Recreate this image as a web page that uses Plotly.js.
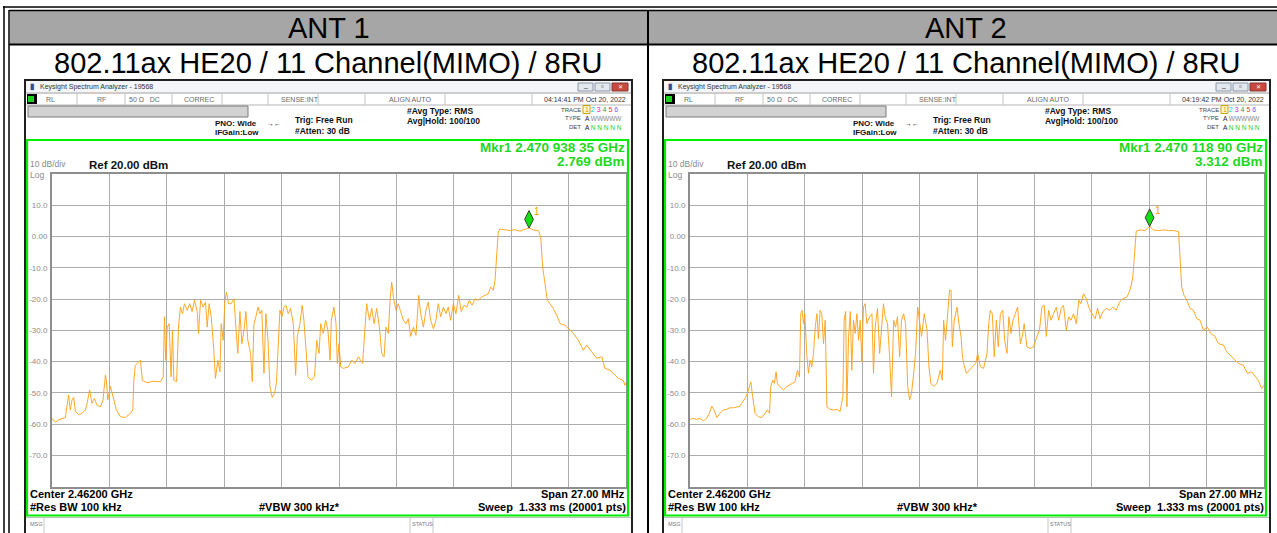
<!DOCTYPE html>
<html><head><meta charset="utf-8">
<script src="https://cdn.plot.ly/plotly-3.0.1.min.js"></script>
<style>html,body{margin:0;padding:0;background:#fff;}#chart{width:1277px;height:533px;}</style>
</head><body><div id="chart"></div>
<script>
// ---------------- DATA ----------------
const panelTitles = ['ANT 1', 'ANT 2'];
const subTitles = ['802.11ax HE20 / 11 Channel(MIMO) / 8RU', '802.11ax HE20 / 11 Channel(MIMO) / 8RU'];
const timeStamps = ['04:14:41 PM Oct 20, 2022', '04:19:42 PM Oct 20, 2022'];
const markerTexts = ['Mkr1 2.470 938 35 GHz', 'Mkr1 2.470 118 90 GHz'];
const markerLevelTexts = ['2.769 dBm', '3.312 dBm'];
const markerFreq = [2470.93835, 2470.11890];   // MHz
const markerLevel = [2.769, 3.312];            // dBm
const centerMHz = 2462.0;
const spanMHz = 27.0;
const refLevel = 20;       // dBm
const dbPerDiv = 10;
const yTickVals = [10, 0, -10, -20, -30, -40, -50, -60, -70];
const yTickText = ['10.0', '0.00', '-10.0', '-20.0', '-30.0', '-40.0', '-50.0', '-60.0', '-70.0'];

const freqA1 = [2448.50,2448.66,2448.81,2448.97,2449.13,2449.28,2449.36,2449.44,2449.52,2449.60,2449.76,2449.91,2450.07,2450.15,2450.27,2450.38,2450.49,2450.62,2450.78,2450.90,2451.01,2451.06,2451.12,2451.25,2451.37,2451.53,2451.72,2451.95,2452.19,2452.30,2452.35,2452.42,2452.58,2452.66,2452.75,2452.97,2453.29,2453.60,2453.73,2453.79,2453.85,2453.92,2454.01,2454.10,2454.17,2454.23,2454.36,2454.45,2454.54,2454.64,2454.73,2454.86,2454.98,2455.09,2455.20,2455.33,2455.39,2455.49,2455.61,2455.72,2455.80,2455.89,2455.99,2456.08,2456.19,2456.30,2456.40,2456.46,2456.55,2456.63,2456.71,2456.80,2456.93,2457.06,2457.18,2457.24,2457.34,2457.43,2457.53,2457.62,2457.71,2457.84,2457.92,2458.00,2458.09,2458.19,2458.28,2458.37,2458.47,2458.56,2458.66,2458.75,2458.86,2458.97,2459.06,2459.16,2459.22,2459.32,2459.41,2459.50,2459.61,2459.72,2459.85,2459.96,2460.04,2460.16,2460.27,2460.35,2460.45,2460.54,2460.70,2460.85,2460.95,2461.06,2461.14,2461.26,2461.37,2461.48,2461.58,2461.64,2461.76,2461.86,2461.92,2462.00,2462.08,2462.20,2462.44,2462.60,2462.75,2462.91,2463.11,2463.22,2463.30,2463.43,2463.54,2463.65,2463.77,2463.90,2464.01,2464.12,2464.21,2464.32,2464.40,2464.48,2464.56,2464.68,2464.79,2464.90,2465.03,2465.15,2465.26,2465.37,2465.50,2465.62,2465.75,2465.84,2465.97,2466.09,2466.20,2466.31,2466.44,2466.56,2466.67,2466.78,2466.91,2467.03,2467.14,2467.25,2467.38,2467.50,2467.63,2467.75,2467.88,2468.01,2468.13,2468.26,2468.40,2468.55,2468.71,2468.87,2469.02,2469.13,2469.26,2469.34,2469.42,2469.49,2469.57,2469.81,2470.04,2470.28,2470.51,2470.75,2470.94,2471.14,2471.38,2471.49,2471.58,2471.69,2471.80,2471.92,2472.08,2472.24,2472.40,2472.63,2472.79,2473.02,2473.26,2473.49,2473.65,2473.88,2474.12,2474.36,2474.51,2474.75,2474.90,2475.14,2475.37,2475.45,2475.50];
const levelA1 = [-58.2,-59.5,-58.7,-58.2,-57.9,-50.7,-55.5,-52.3,-51.5,-56.0,-57.0,-56.6,-55.5,-53.4,-49.1,-53.4,-51.8,-54.0,-54.5,-52.3,-44.4,-46.0,-52.3,-48.0,-51.0,-55.5,-57.7,-57.9,-56.6,-55.5,-46.0,-41.2,-40.1,-39.6,-46.0,-46.8,-46.3,-46.5,-44.9,-25.7,-39.6,-29.0,-27.9,-44.9,-30.0,-46.0,-46.5,-29.0,-22.6,-24.7,-21.5,-23.6,-21.5,-24.0,-20.4,-24.0,-31.0,-20.4,-22.6,-21.0,-29.0,-21.5,-25.7,-33.2,-45.4,-39.6,-43.3,-27.9,-33.2,-21.0,-17.8,-21.5,-21.5,-19.9,-32.0,-37.4,-24.0,-34.3,-30.0,-24.0,-33.2,-37.4,-46.5,-27.9,-25.7,-22.6,-24.7,-23.6,-43.8,-24.7,-33.2,-48.0,-51.5,-50.2,-46.5,-33.2,-23.6,-25.7,-22.6,-22.0,-24.7,-23.0,-27.9,-44.4,-32.0,-27.9,-22.0,-26.8,-35.3,-44.9,-46.0,-44.9,-33.2,-37.4,-27.9,-31.0,-26.8,-30.0,-39.6,-26.8,-22.6,-27.9,-40.6,-34.3,-41.7,-42.2,-41.7,-39.6,-40.6,-38.5,-40.6,-31.0,-21.5,-26.8,-23.0,-27.9,-23.0,-29.0,-37.4,-38.5,-29.0,-31.0,-20.4,-14.6,-19.4,-23.6,-21.5,-24.0,-26.8,-27.9,-26.3,-32.0,-29.0,-31.6,-18.8,-24.7,-29.0,-23.6,-21.0,-26.8,-29.5,-26.8,-21.5,-25.7,-22.6,-24.7,-22.6,-26.8,-21.5,-24.7,-18.8,-24.0,-22.0,-22.6,-20.4,-22.0,-19.9,-20.4,-19.4,-18.8,-18.3,-16.2,-17.2,-14.0,-5.5,1.4,2.4,2.1,1.9,2.2,1.7,2.3,2.77,2.1,1.9,-0.2,-9.8,-15.1,-20.4,-21.5,-23.0,-25.2,-27.9,-28.4,-29.5,-31.0,-33.2,-36.4,-34.7,-36.9,-39.0,-38.5,-42.2,-42.8,-43.8,-45.4,-46.0,-47.6,-46.8];

const freqA2 = [2448.50,2448.66,2448.81,2448.97,2449.13,2449.28,2449.41,2449.52,2449.63,2449.76,2449.91,2450.07,2450.23,2450.38,2450.54,2450.70,2450.85,2450.98,2451.09,2451.20,2451.29,2451.36,2451.45,2451.56,2451.72,2451.88,2452.03,2452.14,2452.24,2452.30,2452.39,2452.47,2452.55,2452.61,2452.71,2452.90,2453.05,2453.29,2453.44,2453.55,2453.65,2453.71,2453.77,2453.84,2453.90,2453.99,2454.07,2454.15,2454.23,2454.31,2454.39,2454.47,2454.54,2454.62,2454.70,2454.78,2454.86,2454.94,2455.09,2455.25,2455.41,2455.56,2455.69,2455.75,2455.82,2455.88,2455.96,2456.04,2456.11,2456.19,2456.27,2456.35,2456.43,2456.51,2456.58,2456.66,2456.74,2456.82,2456.95,2457.06,2457.13,2457.21,2457.32,2457.42,2457.51,2457.60,2457.68,2457.79,2457.89,2457.98,2458.08,2458.17,2458.26,2458.36,2458.45,2458.55,2458.64,2458.74,2458.83,2458.92,2459.02,2459.11,2459.21,2459.30,2459.39,2459.52,2459.65,2459.74,2459.83,2459.96,2460.12,2460.27,2460.37,2460.43,2460.52,2460.62,2460.71,2460.78,2460.84,2460.93,2461.06,2461.15,2461.25,2461.31,2461.37,2461.50,2461.65,2461.81,2461.94,2462.03,2462.16,2462.31,2462.47,2462.55,2462.63,2462.72,2462.81,2462.91,2463.00,2463.10,2463.21,2463.30,2463.41,2463.50,2463.60,2463.69,2463.80,2463.91,2464.04,2464.13,2464.22,2464.35,2464.51,2464.66,2464.82,2464.94,2465.05,2465.16,2465.26,2465.37,2465.48,2465.60,2465.73,2465.84,2465.96,2466.07,2466.20,2466.31,2466.42,2466.54,2466.67,2466.79,2466.89,2467.01,2467.14,2467.26,2467.40,2467.56,2467.67,2467.79,2467.92,2468.08,2468.23,2468.39,2468.55,2468.70,2468.86,2469.05,2469.20,2469.33,2469.41,2469.49,2469.67,2469.91,2470.12,2470.30,2470.54,2470.77,2471.01,2471.24,2471.48,2471.55,2471.63,2471.74,2471.87,2472.02,2472.18,2472.34,2472.49,2472.65,2472.84,2472.99,2473.20,2473.35,2473.59,2473.75,2473.98,2474.14,2474.29,2474.53,2474.72,2474.92,2475.08,2475.23,2475.39,2475.50];
const levelA2 = [-58.5,-58.2,-58.5,-58.2,-59.0,-58.2,-56.6,-54.3,-55.5,-57.9,-56.6,-55.5,-55.3,-54.8,-54.8,-54.5,-54.3,-52.9,-51.8,-50.2,-47.6,-46.5,-51.3,-56.6,-57.7,-57.9,-56.6,-55.5,-56.6,-48.0,-46.0,-47.0,-43.3,-47.0,-48.0,-49.1,-48.0,-47.2,-46.5,-42.8,-44.9,-24.7,-23.6,-27.9,-24.7,-37.4,-43.8,-39.6,-41.7,-37.4,-29.0,-24.7,-32.7,-23.6,-24.7,-34.3,-26.8,-54.5,-55.3,-55.5,-55.3,-56.0,-51.3,-26.8,-24.0,-54.5,-32.0,-24.0,-42.8,-26.8,-31.0,-24.7,-33.2,-26.8,-40.1,-22.6,-21.5,-27.9,-25.7,-24.7,-43.8,-29.0,-23.0,-37.4,-30.0,-21.5,-25.7,-27.9,-38.5,-51.3,-26.8,-29.0,-25.7,-38.5,-26.8,-24.7,-27.9,-48.0,-52.3,-50.2,-43.8,-37.4,-22.6,-27.9,-32.0,-24.7,-30.0,-41.7,-47.0,-48.0,-47.0,-42.8,-46.0,-26.8,-33.2,-24.7,-17.2,-17.2,-35.3,-26.8,-22.6,-27.9,-32.0,-38.0,-40.6,-43.8,-42.8,-41.7,-40.6,-37.4,-41.7,-42.2,-37.4,-27.9,-23.6,-24.7,-38.5,-26.8,-35.3,-24.7,-23.6,-33.2,-37.4,-25.7,-31.0,-26.8,-24.7,-22.6,-34.3,-32.0,-27.9,-35.3,-35.8,-35.3,-32.0,-30.0,-22.6,-22.0,-32.0,-23.6,-26.8,-24.7,-22.6,-26.8,-23.0,-22.0,-30.0,-25.7,-26.8,-24.7,-27.9,-20.4,-21.5,-18.3,-19.9,-22.6,-24.7,-26.3,-23.0,-26.3,-24.0,-23.0,-23.6,-22.6,-23.6,-21.0,-19.9,-19.4,-17.2,-13.0,-5.5,1.7,2.1,1.9,3.31,2.1,1.9,2.1,1.9,1.9,1.6,-5.5,-16.2,-18.8,-20.4,-23.0,-23.6,-26.3,-26.8,-30.0,-29.0,-31.0,-32.0,-34.3,-34.7,-36.9,-38.5,-39.6,-40.6,-41.2,-43.8,-43.3,-44.9,-46.0,-48.6,-47.6];

// ---------------- LAYOUT HELPERS ----------------
const W = 1277, H = 533;
const F = 'Liberation Sans, Arial, sans-serif';
const X = px => px / W;
const Y = py => 1 - py / H;
const shapes = [];
const ann = [];
function rect(x0, y0, x1, y1, fill, line, lw, layer) {
  shapes.push({type: 'rect', xref: 'paper', yref: 'paper', x0: X(x0), x1: X(x1), y0: Y(y1), y1: Y(y0),
    fillcolor: fill || 'rgba(0,0,0,0)', line: {color: line || 'rgba(0,0,0,0)', width: lw || 0}, layer: layer || 'below'});
}
function hline(x0, x1, y, color, w, layer) {
  shapes.push({type: 'line', xref: 'paper', yref: 'paper', x0: X(x0), x1: X(x1), y0: Y(y), y1: Y(y), line: {color, width: w}, layer: layer || 'below'});
}
function vline(x, y0, y1, color, w, layer) {
  shapes.push({type: 'line', xref: 'paper', yref: 'paper', x0: X(x), x1: X(x), y0: Y(y0), y1: Y(y1), line: {color, width: w}, layer: layer || 'below'});
}
function txt(x, y, text, size, color, anchor) {
  ann.push({xref: 'paper', yref: 'paper', x: X(x), y: Y(y), text, showarrow: false, xanchor: anchor || 'left', yanchor: 'middle',
    borderpad: 0, font: {family: F, size, color: color || '#000'}});
}

// ---------------- TABLE ----------------
rect(10, 11, 1277, 44, '#a6a6a6');
hline(3, 1277, 7, '#000', 1.5);
hline(9, 1277, 10.5, '#000', 1.5);
vline(4, 6, 533, '#000', 1.5);
vline(9, 10, 533, '#000', 1.5);
hline(9, 1277, 44.5, '#000', 2);
vline(648, 10, 533, '#000', 2);
const cellCenters = [328.5, 966];
for (let i = 0; i < 2; i++) {
  txt(cellCenters[i], 28, panelTitles[i], 29, '#000', 'center');
  txt(cellCenters[i], 63, subTitles[i], 29, '#000', 'center');
}

// ---------------- ANALYZER SCREENS ----------------
const PLOT_L = 52, PLOT_R = 626, PLOT_T = 174, PLOT_B = 486.5, DX = 638;
const greenC = '#00ee00';
for (let i = 0; i < 2; i++) {
  const d = i * DX;
  // window
  rect(25 + d, 80, 632 + d, 545, '#ffffff', '#202020', 2);
  rect(26 + d, 81, 631 + d, 92, '#f3f5f8');
  txt(29 + d, 86.5, '<b>▮</b>', 8, '#3a4a8a');
  txt(39 + d, 87, 'Keysight Spectrum Analyzer - 19568', 7, '#333');
  rect(578 + d, 83, 593 + d, 91, '#e3e8ef', '#8a97a8', 1);
  rect(595 + d, 83, 610 + d, 91, '#e3e8ef', '#8a97a8', 1);
  rect(612 + d, 83, 628 + d, 91, '#c9483e', '#8a3a33', 1);
  txt(583 + d, 87.5, '‒', 7, '#333');
  txt(600 + d, 87, '▫', 8, '#333');
  txt(617 + d, 87, '✕', 6, '#fff');
  // status row
  hline(26 + d, 631 + d, 93, '#9a9a9a', 1);
  hline(26 + d, 631 + d, 105, '#b5b5b5', 1);
  rect(27 + d, 94, 37 + d, 104, '#000000');
  rect(28 + d, 96, 34 + d, 102, '#1fcf1f');
  [77, 125, 172, 222, 268, 318, 365, 445, 532].forEach(x => vline(x + d, 93, 105, '#c4c4c4', 1));
  txt(45 + d, 99.5, 'RL', 7, '#6a6a6a');
  txt(96 + d, 99.5, 'RF', 7, '#6a6a6a');
  txt(128 + d, 99.5, '50 Ω   DC', 7, '#6a6a6a');
  txt(183 + d, 99.5, 'CORREC', 7, '#6a6a6a');
  txt(280 + d, 99.5, 'SENSE:INT', 7, '#6a6a6a');
  txt(388 + d, 99.5, 'ALIGN AUTO', 7, '#6a6a6a');
  txt(627 + d, 99.5, timeStamps[i], 7, '#333', 'right');
  // grey message bar
  rect(28 + d, 106, 248 + d, 117, '#d2d2d2', '#7a7a7a', 1);
  // settings text
  txt(258 + d, 123, '<b>PNO: Wide</b>', 8, '#111', 'right');
  txt(260 + d, 133, '<b>IFGain:Low</b>', 8, '#111', 'right');
  txt(266 + d, 123, '<b>→←</b>', 7, '#111');
  txt(294 + d, 120, '<b>Trig: Free Run</b>', 8.5, '#111');
  txt(294 + d, 131, '<b>#Atten: 30 dB</b>', 8.5, '#111');
  txt(406 + d, 111, '<b>#Avg Type: RMS</b>', 8.5, '#111');
  txt(406 + d, 121, '<b>Avg|Hold: 100/100</b>', 8.5, '#111');
  txt(582 + d, 109.5, 'TRACE', 6, '#444', 'right');
  txt(582 + d, 118.5, 'TYPE', 6, '#444', 'right');
  txt(582 + d, 127.5, 'DET', 6, '#444', 'right');
  rect(583 + d, 105.5, 590 + d, 113.5, '#fff8d0', '#c9a200', 1);
  txt(584 + d, 109.5, '<span style="color:#d89a00">1</span> <span style="color:#00c8e0">2</span> <span style="color:#e020e0">3</span> <span style="color:#00b050">4</span> <span style="color:#ff3030">5</span> <span style="color:#7060ff">6</span>', 7, '#000');
  txt(584 + d, 118.5, 'A <span style="color:#888">WWWWW</span>', 6.5, '#222');
  txt(584 + d, 127.5, 'A <span style="color:#1fcf1f">N N N N N</span>', 6.5, '#222');
  // green frame
  rect(27 + d, 140, 628 + d, 515.5, 'rgba(0,0,0,0)', greenC, 2.2, 'above');
  txt(626 + d, 147.5, '<b>' + markerTexts[i] + '</b>', 13.5, '#1ed81e', 'right');
  txt(626 + d, 161.5, '<b>' + markerLevelTexts[i] + '</b>', 13.5, '#1ed81e', 'right');
  txt(29 + d, 164, dbPerDiv + ' dB/div', 8.5, '#8a8a8a');
  txt(88 + d, 165, '<b>Ref ' + refLevel.toFixed(2) + ' dBm</b>', 11.5, '#111');
  txt(29 + d, 174.5, 'Log', 8.5, '#8a8a8a');
  // bottom info
  txt(29 + d, 494, '<b>Center ' + (centerMHz / 1000).toFixed(5) + ' GHz</b>', 11, '#000');
  txt(626 + d, 494, '<b>Span ' + spanMHz.toFixed(2) + ' MHz</b>', 11, '#000', 'right');
  txt(29 + d, 507, '<b>#Res BW 100 kHz</b>', 11, '#000');
  txt(258 + d, 507, '<b>#VBW 300 kHz*</b>', 11, '#000');
  txt(627 + d, 507, '<b>Sweep  1.333 ms (20001 pts)</b>', 11, '#000', 'right');
  // msg row
  hline(26 + d, 631 + d, 517.5, '#bdbdbd', 1);
  vline(44 + d, 517.5, 533, '#c8c8c8', 1);
  vline(410 + d, 517.5, 533, '#c8c8c8', 1);
  vline(433 + d, 517.5, 533, '#c8c8c8', 1);
  txt(29 + d, 524, 'MSG', 5.5, '#777');
  txt(411 + d, 524, 'STATUS', 5.5, '#777');
}

// ---------------- AXES ----------------
const fStart = centerMHz - spanMHz / 2, fStop = centerMHz + spanMHz / 2;
const xGrid = [];
for (let k = 1; k < 10; k++) xGrid.push(fStart + k * spanMHz / 10);
function xAx(l, r) {
  return {domain: [X(l), X(r)], range: [fStart, fStop], tickvals: xGrid, showticklabels: false, ticks: '',
    showgrid: true, gridcolor: '#acacac', gridwidth: 1, zeroline: false, showline: true, mirror: true,
    linecolor: '#8e8e8e', linewidth: 2, fixedrange: true};
}
function yAx(anchor) {
  return {domain: [Y(PLOT_B), Y(PLOT_T)], range: [refLevel - 10 * dbPerDiv, refLevel], tickvals: yTickVals, ticktext: yTickText,
    ticks: '', showgrid: true, gridcolor: '#acacac', gridwidth: 1, zeroline: false, showline: true, mirror: true,
    linecolor: '#8e8e8e', linewidth: 2, anchor, fixedrange: true, tickfont: {family: F, size: 8, color: '#8c8c8c'}, ticklabelstandoff: 1};
}

const traceColor = 'rgba(255,163,26,0.95)';
const diamondLift = 8.5 * (10 * dbPerDiv) / (PLOT_B - PLOT_T); // px -> dB
const data = [
  {x: freqA1, y: levelA1, xaxis: 'x', yaxis: 'y', mode: 'lines', line: {color: traceColor, width: 1}, hoverinfo: 'skip'},
  {x: freqA2, y: levelA2, xaxis: 'x2', yaxis: 'y2', mode: 'lines', line: {color: traceColor, width: 1}, hoverinfo: 'skip'},
  {x: [markerFreq[0]], y: [markerLevel[0] + diamondLift], xaxis: 'x', yaxis: 'y', mode: 'markers',
    marker: {symbol: 'diamond-tall', size: 12.5, color: '#10e010', line: {color: '#3a3a3a', width: 1}}, hoverinfo: 'skip'},
  {x: [markerFreq[1]], y: [markerLevel[1] + diamondLift], xaxis: 'x2', yaxis: 'y2', mode: 'markers',
    marker: {symbol: 'diamond-tall', size: 12.5, color: '#10e010', line: {color: '#3a3a3a', width: 1}}, hoverinfo: 'skip'}
];
ann.push({xref: 'x', yref: 'y', x: markerFreq[0], y: markerLevel[0], text: '1', showarrow: false, xshift: 8, yshift: 16,
  font: {family: F, size: 10, color: '#f0a000'}});
ann.push({xref: 'x2', yref: 'y2', x: markerFreq[1], y: markerLevel[1], text: '1', showarrow: false, xshift: 8, yshift: 16,
  font: {family: F, size: 10, color: '#f0a000'}});

const layout = {
  width: W, height: H, margin: {l: 0, r: 0, t: 0, b: 0},
  paper_bgcolor: '#ffffff', plot_bgcolor: 'rgba(0,0,0,0)', showlegend: false,
  xaxis: xAx(PLOT_L, PLOT_R), yaxis: yAx('x'),
  xaxis2: xAx(PLOT_L + DX, PLOT_R + DX), yaxis2: yAx('x2'),
  shapes, annotations: ann
};
Plotly.newPlot('chart', data, layout, {staticPlot: true, displayModeBar: false});
</script></body></html>
